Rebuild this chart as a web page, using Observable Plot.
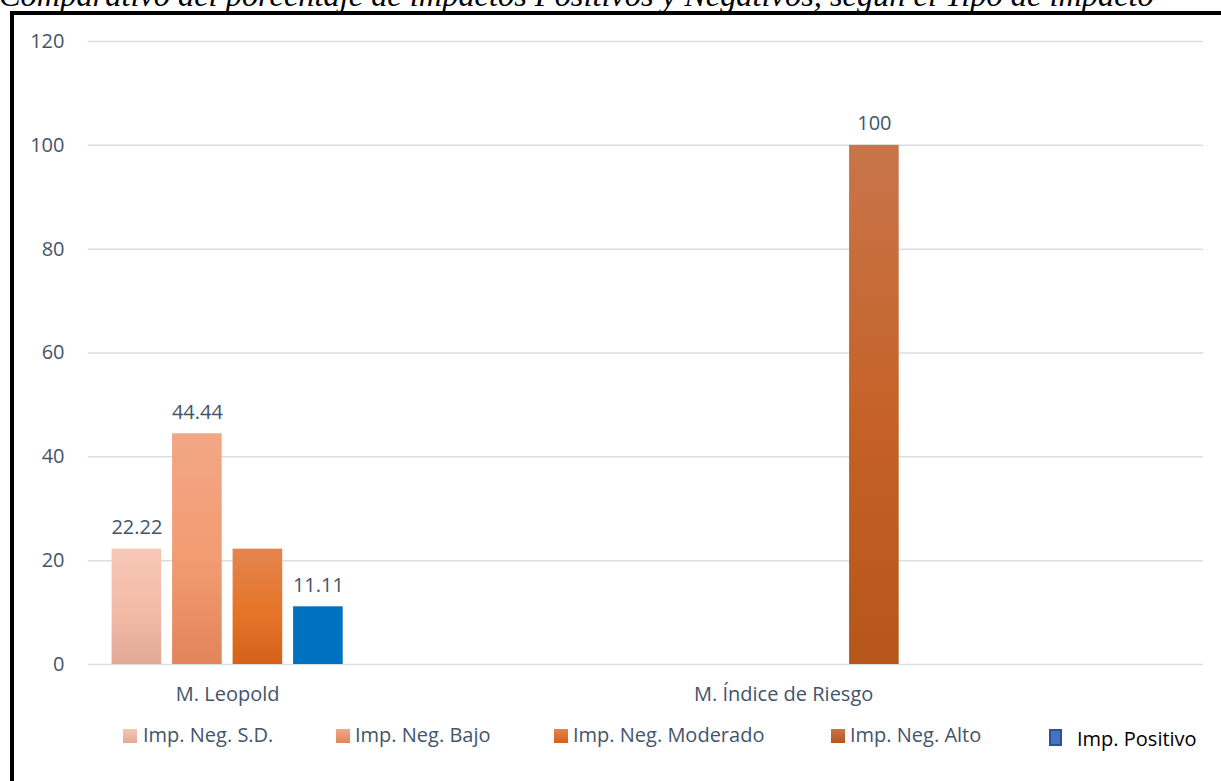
<!DOCTYPE html>
<html>
<head>
<meta charset="utf-8">
<script src="https://cdn.jsdelivr.net/npm/d3@7"></script>
<script src="https://cdn.jsdelivr.net/npm/@observablehq/plot@0.6"></script>
<style>
  html, body { margin: 0; padding: 0; background: #fff; overflow: hidden; width: 1221px; height: 781px; }
  #title { position: absolute; left: -1px; top: -21px; font-family: "Liberation Serif", serif; font-style: italic; font-size: 32.4px; line-height: 1; white-space: nowrap; color: #000; }
  #frame { position: absolute; left: 10px; top: 11px; width: 1400px; height: 900px; border: 4px solid #000; box-sizing: border-box; }
  #chart { position: absolute; left: 0; top: 0; }
  .leg { position: absolute; font-family: "Open Sans", sans-serif; font-size: 20px; color: #44546A; white-space: nowrap; line-height: 1; }
  .sw { position: absolute; width: 14px; height: 14px; }
</style>
</head>
<body>
<div id="title">Comparativo del porcentaje de impactos Positivos y Negativos, según el Tipo de impacto</div>
<div id="frame"></div>
<div id="chart"></div>
<div id="legend"></div>
<script>
// ---- data ----
const categories = ["M. Leopold", "M. Índice de Riesgo"];
const series = ["Imp. Neg. S.D.", "Imp. Neg. Bajo", "Imp. Neg. Moderado", "Imp. Neg. Alto", "Imp. Positivo"];
const leopoldValues = [22.22, 44.44, 22.22, null, 11.11];
const indiceValues = [null, null, null, 100, null];
// which bars carry a value label in the reference
const leopoldLabelled = [true, true, false, false, true];
const indiceLabelled = [false, false, false, true, false];
const yTicks = [0, 20, 40, 60, 80, 100, 120];

// ---- layout (not data) ----
const catCenter = [2.3, 11.49];                 // category centres in slot units
const slotOffset = [-1.5, -0.5, 0.5, 1.5, 1.5]; // slot of each series within a category
const barHalf = 0.41;
const gradId = ["g-sd", "g-bajo", "g-mod", "g-alto", null];
const gradStops = [
  ["#F7C7B6", "#F3BBA6", "#E2A996"],
  ["#F2A785", "#F29B72", "#E3845B"],
  ["#E3854F", "#E67428", "#D5611A"],
  ["#C8754B", "#C56126", "#B5561A"]
];
const solidFill = ["", "", "", "", "#0070C0"];
const textColor = "#44546A";

const rows = [];
[[leopoldValues, leopoldLabelled], [indiceValues, indiceLabelled]].forEach(([vals, lab], ci) => {
  vals.forEach((v, si) => {
    if (v == null) return;
    rows.push({
      category: categories[ci],
      series: series[si],
      value: v,
      label: String(v),
      labelled: lab[si],
      center: catCenter[ci] + slotOffset[si],
      fill: gradId[si] ? `url(#${gradId[si]})` : solidFill[si]
    });
  });
});

function defs() {
  const d = d3.create("svg:defs");
  gradStops.forEach((stops, i) => {
    const g = d.append("linearGradient").attr("id", gradId[i])
      .attr("x1", 0).attr("y1", 0).attr("x2", 0).attr("y2", 1);
    g.append("stop").attr("offset", "0%").attr("stop-color", stops[0]);
    g.append("stop").attr("offset", "55%").attr("stop-color", stops[1]);
    g.append("stop").attr("offset", "100%").attr("stop-color", stops[2]);
  });
  return d.node();
}

const plot = Plot.plot({
  width: 1221,
  height: 712,
  marginLeft: 88,
  marginRight: 18,
  marginTop: 41,
  marginBottom: 48,
  style: { background: "transparent", fontFamily: "'Open Sans', sans-serif", fontSize: "20px", color: textColor, overflow: "visible" },
  x: { domain: [0, 18.43], axis: null },
  y: { domain: [0, 120], axis: null },
  marks: [
    defs,
    Plot.ruleY(yTicks, { stroke: "#D9DEE5", strokeWidth: 1.5 }),
    Plot.axisY(yTicks, { tickSize: 0, tickPadding: 0, dx: -24, fill: textColor, fontSize: 20, label: null, tickFormat: d => String(d) }),
    ...rows.map(r => Plot.rect([r], {
      x1: d => d.center - barHalf,
      x2: d => d.center + barHalf,
      y1: 0,
      y2: "value",
      fill: r.fill
    })),
    Plot.text(rows.filter(d => d.labelled), { x: "center", y: "value", text: "label", lineAnchor: "bottom", dy: -15, fill: textColor, fontSize: 20 }),
    Plot.text(categories, { x: (d, i) => catCenter[i], y: 0, text: d => d, dy: 30, lineAnchor: "middle", fill: textColor, fontSize: 20 })
  ]
});
document.getElementById("chart").appendChild(plot);

// ---- legend (HTML) ----
const legend = document.getElementById("legend");
const legPos = [
  { sw: 123, tx: 143 },
  { sw: 336, tx: 355 },
  { sw: 554, tx: 573 },
  { sw: 831, tx: 850 },
  { sw: 1049, tx: 1077 }
];
const swatchBg = [
  "linear-gradient(#F7C7B6, #E2A996)",
  "linear-gradient(#F2A785, #E3845B)",
  "linear-gradient(#E3854F, #D5611A)",
  "linear-gradient(#C8754B, #B5561A)",
  "#4472C4"
];
series.forEach((s, i) => {
  const sw = document.createElement("div");
  sw.className = "sw";
  sw.style.left = legPos[i].sw + "px";
  sw.style.background = swatchBg[i];
  const tx = document.createElement("div");
  tx.className = "leg";
  tx.textContent = s;
  tx.style.left = legPos[i].tx + "px";
  if (i === 4) {
    sw.style.top = "729px";
    sw.style.height = "17px";
    sw.style.width = "13px";
    sw.style.boxSizing = "border-box";
    sw.style.border = "2px solid #2F528F";
    tx.style.top = "729px";
    tx.style.color = "#000";
  } else {
    sw.style.top = "729px";
    tx.style.top = "725px";
  }
  legend.appendChild(sw);
  legend.appendChild(tx);
});
</script>
</body>
</html>
